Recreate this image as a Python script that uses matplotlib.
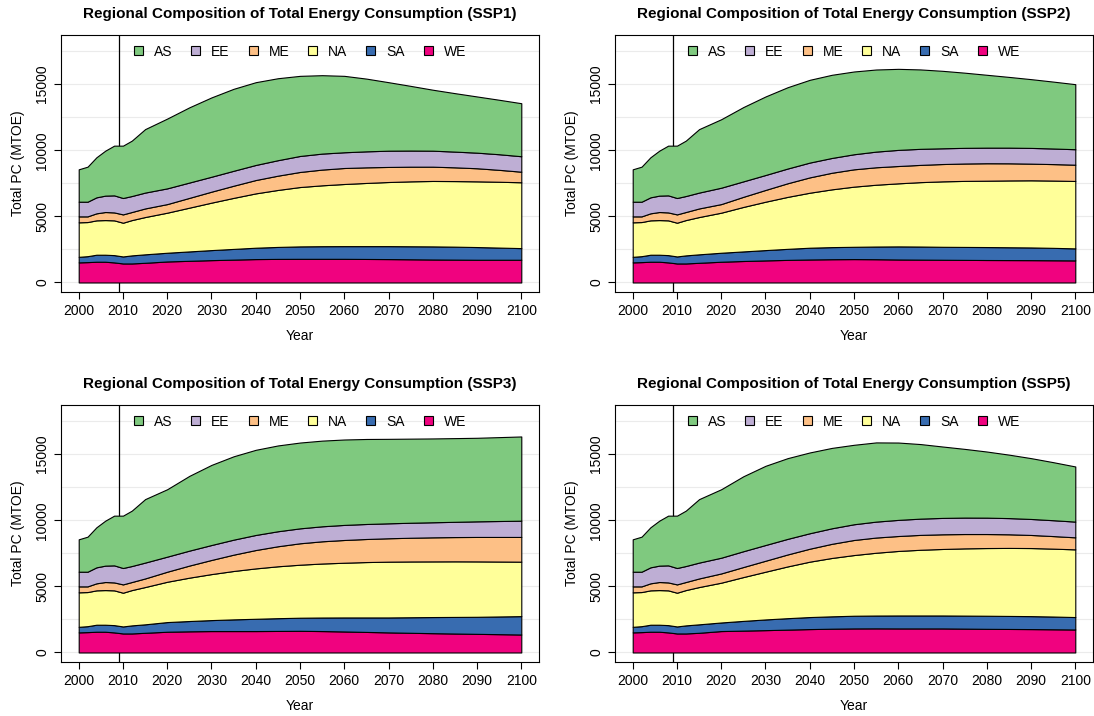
import matplotlib.pyplot as plt
import numpy as np
from matplotlib.patches import Patch

plt.rcParams["font.family"] = ["Liberation Sans", "DejaVu Sans"]

regions = ["AS", "EE", "ME", "NA", "SA", "WE"]
region_colors = ["#7FC97F", "#BEAED4", "#FDC086", "#FFFF99", "#386CB0", "#F0027F"]

# observed period, shared by every scenario
hist_years = [2000, 2002, 2004, 2006, 2008, 2010, 2012]
hist_as = [2450, 2650, 3030, 3400, 3760, 3960, 4190]
hist_ee = [1110, 1110, 1210, 1240, 1290, 1240, 1210]
hist_me = [450, 430, 530, 610, 600, 630, 610]
hist_na = [2610, 2580, 2600, 2620, 2630, 2550, 2670]
hist_sa = [420, 450, 530, 530, 550, 530, 610]
hist_we = [1520, 1540, 1570, 1570, 1520, 1440, 1440]

# projections (MTOE), 2015-2100 every 5 years
proj_years = list(range(2015, 2101, 5))

ssp1_as = [4800, 5280, 5690, 6000, 6200, 6260, 6200, 6060, 5930, 5780, 5500, 5180, 4890, 4610, 4420, 4250, 4120, 4010]
ssp1_ee = [1200, 1190, 1160, 1130, 1130, 1140, 1170, 1210, 1210, 1190, 1210, 1230, 1220, 1210, 1190, 1180, 1180, 1170]
ssp1_me = [650, 650, 740, 830, 920, 1010, 1080, 1140, 1190, 1210, 1180, 1140, 1110, 1080, 1040, 990, 900, 800]
ssp1_na = [2820, 3030, 3310, 3590, 3860, 4110, 4310, 4490, 4605, 4700, 4780, 4850, 4910, 4950, 4960, 4970, 4980, 4980]
ssp1_sa = [640, 660, 710, 760, 810, 860, 905, 940, 955, 960, 970, 980, 985, 990, 980, 960, 920, 880]
ssp1_we = [1490, 1590, 1640, 1690, 1730, 1770, 1785, 1790, 1790, 1790, 1780, 1770, 1755, 1740, 1730, 1720, 1720, 1720]

ssp2_as = [4800, 5180, 5620, 5940, 6150, 6260, 6290, 6260, 6210, 6130, 6005, 5860, 5685, 5510, 5350, 5200, 5060, 4920]
ssp2_ee = [1200, 1240, 1170, 1130, 1115, 1120, 1120, 1140, 1185, 1220, 1215, 1190, 1185, 1180, 1185, 1190, 1180, 1170]
ssp2_me = [650, 650, 765, 890, 1030, 1160, 1255, 1310, 1320, 1310, 1305, 1310, 1315, 1320, 1295, 1260, 1245, 1230]
ssp2_na = [2820, 3030, 3365, 3660, 3930, 4160, 4370, 4550, 4675, 4770, 4870, 4950, 4995, 5020, 5055, 5080, 5090, 5100]
ssp2_sa = [640, 680, 725, 780, 835, 890, 915, 930, 960, 990, 990, 980, 980, 980, 970, 960, 940, 910]
ssp2_we = [1490, 1570, 1625, 1670, 1710, 1740, 1760, 1770, 1760, 1740, 1730, 1720, 1710, 1700, 1695, 1690, 1680, 1670]

ssp3_as = [4800, 5100, 5655, 6060, 6305, 6440, 6490, 6490, 6480, 6460, 6430, 6390, 6360, 6340, 6330, 6320, 6345, 6370]
ssp3_ee = [1200, 1140, 1130, 1130, 1135, 1140, 1135, 1130, 1135, 1140, 1135, 1130, 1135, 1140, 1155, 1180, 1205, 1230]
ssp3_me = [650, 760, 915, 1070, 1235, 1390, 1515, 1620, 1680, 1720, 1745, 1770, 1795, 1820, 1835, 1850, 1860, 1870]
ssp3_na = [2820, 3050, 3280, 3480, 3660, 3810, 3925, 4010, 4085, 4140, 4190, 4220, 4220, 4210, 4205, 4190, 4155, 4120]
ssp3_sa = [640, 730, 780, 830, 885, 930, 965, 990, 1025, 1060, 1095, 1130, 1175, 1220, 1255, 1290, 1340, 1390]
ssp3_we = [1490, 1570, 1600, 1620, 1620, 1620, 1630, 1640, 1620, 1590, 1555, 1520, 1490, 1460, 1435, 1410, 1385, 1360]

ssp5_as = [4800, 5180, 5670, 5990, 6105, 6110, 6080, 6010, 5990, 5850, 5640, 5400, 5195, 5000, 4800, 4600, 4390, 4170]
ssp5_ee = [1200, 1190, 1195, 1190, 1180, 1170, 1175, 1190, 1205, 1220, 1230, 1240, 1245, 1240, 1225, 1210, 1200, 1190]
ssp5_me = [650, 700, 760, 830, 905, 980, 1070, 1140, 1150, 1130, 1125, 1110, 1085, 1060, 1030, 990, 950, 910]
ssp5_na = [2820, 3010, 3315, 3610, 3915, 4190, 4415, 4590, 4750, 4880, 4970, 5030, 5085, 5120, 5145, 5150, 5135, 5120]
ssp5_sa = [640, 650, 735, 810, 865, 910, 935, 960, 970, 980, 980, 980, 985, 990, 985, 980, 965, 940]
ssp5_we = [1490, 1620, 1655, 1690, 1730, 1770, 1800, 1820, 1825, 1820, 1820, 1820, 1805, 1790, 1780, 1770, 1755, 1740]

scenarios = ["SSP1", "SSP2", "SSP3", "SSP5"]
proj = {
    "SSP1": [ssp1_as, ssp1_ee, ssp1_me, ssp1_na, ssp1_sa, ssp1_we],
    "SSP2": [ssp2_as, ssp2_ee, ssp2_me, ssp2_na, ssp2_sa, ssp2_we],
    "SSP3": [ssp3_as, ssp3_ee, ssp3_me, ssp3_na, ssp3_sa, ssp3_we],
    "SSP5": [ssp5_as, ssp5_ee, ssp5_me, ssp5_na, ssp5_sa, ssp5_we],
}
hist = [hist_as, hist_ee, hist_me, hist_na, hist_sa, hist_we]


def draw_panel(ax, scen) -> None:
    years = hist_years + proj_years
    layers = [h + p for h, p in zip(hist, proj[scen])]

    ax.hlines(np.arange(0, 20000, 2500), 1990, 2110, color="#EBEBEB", lw=0.8, zorder=0)
    ax.axvline(2009, color="black", lw=0.9, zorder=1)

    # stack from the bottom: WE first, AS on top
    ax.stackplot(
        years,
        *layers[::-1],
        colors=region_colors[::-1],
        edgecolor="black",
        linewidth=0.8,
        zorder=2,
    )

    ax.set_xlim(1996, 2104)
    ax.set_ylim(-720, 18720)
    ax.set_xticks(np.arange(2000, 2101, 10))
    ax.set_yticks([0, 5000, 10000, 15000])
    ax.set_yticklabels(["0", "5000", "10000", "15000"], rotation=90, va="center")
    ax.tick_params(direction="out", length=5, width=0.8, labelsize=10, pad=3.5)
    for s in ax.spines.values():
        s.set_linewidth(0.8)

    ax.set_xlabel("Year", fontsize=10, labelpad=8)
    ax.set_ylabel("Total PC (MTOE)", fontsize=10, labelpad=7)
    ax.set_title(
        f"Regional Composition of Total Energy Consumption ({scen})",
        fontsize=11,
        fontweight="bold",
        pad=12,
    )

    handles = [Patch(facecolor=c, edgecolor="black", lw=0.8) for c in region_colors]
    ax.legend(
        handles,
        regions,
        loc="center",
        bbox_to_anchor=(0.5, 0.935),
        ncol=6,
        frameon=False,
        fontsize=10,
        handlelength=0.65,
        handleheight=0.65,
        handletextpad=0.8,
        columnspacing=1.35,
    )


def main() -> None:
    fig = plt.figure(figsize=(10.94, 7.16), dpi=100)
    w = 478 / 1094
    h = 257 / 716
    lefts = [61 / 1094, 615 / 1094]
    bottoms = [1 - 292 / 716, 1 - 662 / 716]
    for i, scen in enumerate(scenarios):
        ax = fig.add_axes([lefts[i % 2], bottoms[i // 2], w, h])
        draw_panel(ax, scen)
    fig.savefig("out.png", dpi=100)


if __name__ == "__main__":
    main()
